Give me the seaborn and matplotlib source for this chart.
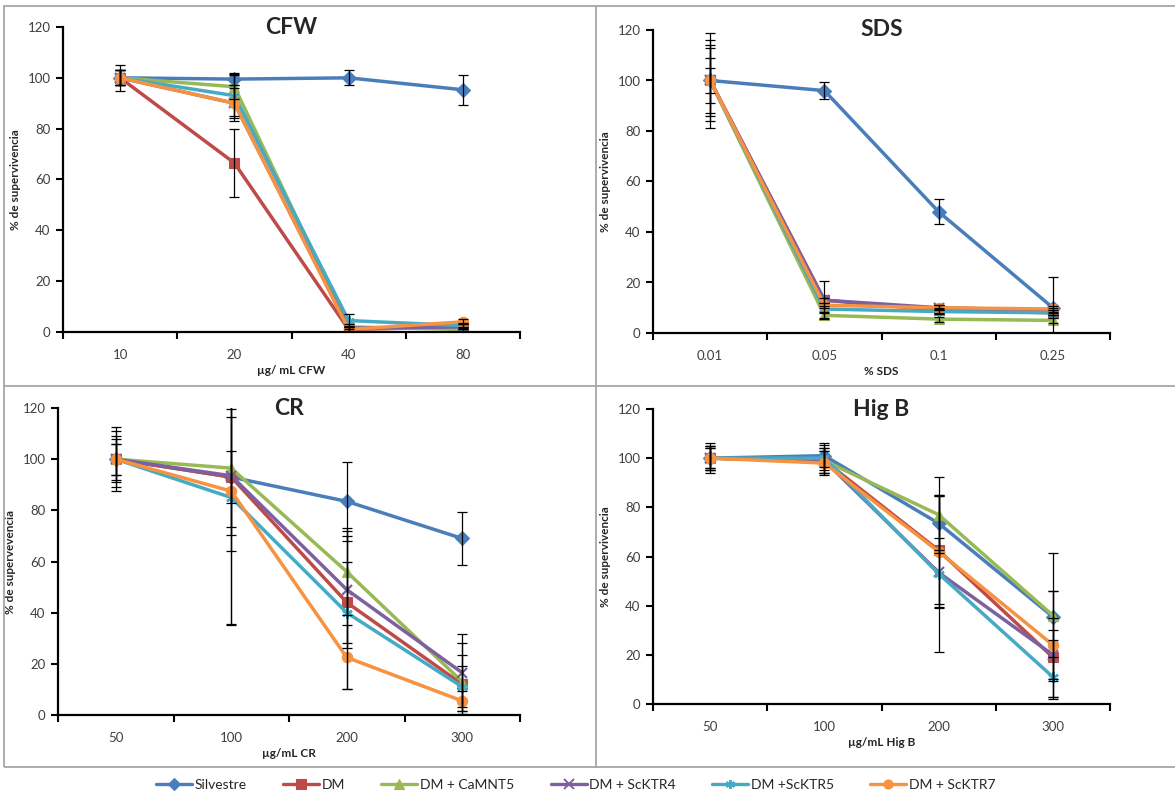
import matplotlib
matplotlib.use("Agg")
import matplotlib.pyplot as plt
from matplotlib.lines import Line2D
from matplotlib.patches import Rectangle
import seaborn as sns
import numpy as np

sns.set_style("white")
plt.rcParams['font.family'] = ['Lato', 'DejaVu Sans']

series = ["Silvestre", "DM", "DM + CaMNT5", "DM + ScKTR4", "DM +ScKTR5", "DM + ScKTR7"]
colors = ["#4A7EBB", "#BE4B48", "#98B954", "#7D60A0", "#46AAC5", "#F69240"]
markers = ["D", "s", "^", "x", (6, 2, 0), "o"]

# ---- CFW ----
cfw_cats = ["10", "20", "40", "80"]
cfw_vals = [[100, 99.5, 100, 95.3],
            [100, 66.5, 1, 2],
            [100, 96.5, 2, 1],
            [100, 90, 1.5, 2],
            [100, 93, 4.5, 2.5],
            [100, 90, 1, 4]]
cfw_err = [[5, 2.5, 3, 6],
           [3, 13.3, 1, 1],
           [3, 5, 1, 1],
           [3, 6, 1, 1],
           [3, 8, 2.5, 1],
           [3, 7, 1, 1]]

# ---- SDS ----
sds_cats = ["0.01", "0.05", "0.1", "0.25"]
sds_vals = [[100, 96, 48, 10],
            [100, 13, 9, 8],
            [100, 7, 5.5, 5],
            [100, 13, 10, 9],
            [100, 9.5, 8.5, 8],
            [100, 11, 10, 9.5]]
sds_err = [[5, 3.5, 5, 12],
           [9, 7.5, 1, 1],
           [13, 1, 1, 1],
           [16, 1, 1, 1],
           [19, 1, 1, 1],
           [14, 1, 1, 1]]

# ---- CR ----
cr_cats = ["50", "100", "200", "300"]
cr_vals = [[100, 93, 83.5, 69],
           [100, 93, 44, 12],
           [100, 96.5, 56, 13],
           [100, 93.5, 49, 16.5],
           [100, 85, 40, 11],
           [100, 87.5, 22.5, 5.5]]
cr_err = [[12.5, 10, 15.5, 10.5],
          [6, 29, 16, 11.5],
          [11, 23, 17, 15],
          [8, 23, 23, 15],
          [9, 50, 30, 8],
          [6, 52, 12.5, 4]]

# ---- Hig B ----
hig_cats = ["50", "100", "200", "300"]
hig_vals = [[100, 101, 73.5, 35.5],
            [100, 99, 62.5, 19],
            [100, 99, 77, 36],
            [100, 99, 53.5, 20],
            [100, 100, 53, 11],
            [100, 98, 62, 24]]
hig_err = [[5, 4.5, 11, 26],
           [4, 5, 22, 16],
           [6, 4, 15.5, 10],
           [5, 5, 14, 10],
           [4, 6, 32, 8],
           [5, 5, 23, 22]]

panels = [
    ("CFW", "µg/ mL CFW", "% de supervivencia", cfw_cats, cfw_vals, cfw_err),
    ("SDS", "% SDS", "% de supervivencia", sds_cats, sds_vals, sds_err),
    ("CR", "µg/mL CR", "% de supervevencia", cr_cats, cr_vals, cr_err),
    ("Hig B", "µg/mL Hig B", "% de supervivencia", hig_cats, hig_vals, hig_err),
]

W, H = 1175, 805
fig = plt.figure(figsize=(W / 100, H / 100), dpi=100)

# axes boxes in pixels: left, right, top(y=120), bottom(y=0)
boxes = [(63, 520, 27, 332), (653, 1110, 30, 333), (58, 520, 408, 715), (653, 1110, 409, 704)]

# panel frames
frame_kw = dict(color="#A6A6A6", lw=1.3)
fig.add_artist(Rectangle((4 / W, 1 - 767 / H), (W + 5 - 4) / W, (767 - 6) / H,
                         transform=fig.transFigure, fill=False, ec="#A6A6A6", lw=1.3))
fig.add_artist(Line2D([596 / W, 596 / W], [1 - 6 / H, 1 - 767 / H], transform=fig.transFigure, **frame_kw))
fig.add_artist(Line2D([4 / W, 1], [1 - 386 / H, 1 - 386 / H], transform=fig.transFigure, **frame_kw))

for (title, xlabel, ylabel, cats, vals, errs), (l, r, t, b) in zip(panels, boxes):
    ax = fig.add_axes([l / W, 1 - b / H, (r - l) / W, (b - t) / H])
    pos = np.arange(len(cats))
    for name, c, m, v, e in zip(series, colors, markers, vals, errs):
        ms = 7 if m in ("D",) else 7.5
        sns.lineplot(x=pos, y=v, ax=ax, color=c, marker=m, markersize=ms,
                     markeredgecolor=c, markeredgewidth=1.6 if m in ("x", (6, 2, 0)) else 0.8,
                     lw=2.5, label=name, legend=False, zorder=2)
        ax.errorbar(pos, v, yerr=e, fmt="none", ecolor="black", elinewidth=0.9,
                    capsize=3.5, capthick=0.9, zorder=3)
    ax.set_xlim(-0.5, len(cats) - 0.5)
    ax.set_ylim(0, 120)
    ax.set_yticks(range(0, 121, 20))
    ax.set_xticks(pos)
    ax.set_xticklabels(cats)
    ax.set_xticks(np.arange(-0.5, len(cats), 1.0), minor=True)
    ax.tick_params(axis="x", which="major", length=0, pad=12, labelsize=9.5, colors="#404040")
    ax.tick_params(axis="x", which="minor", length=5, width=1.5, direction="out", color="black", bottom=True)
    ax.tick_params(axis="y", which="major", length=5, width=1.5, direction="out", left=True,
                   labelsize=9.5, colors="black", labelcolor="#404040", pad=4)
    for s in ("top", "right"):
        ax.spines[s].set_visible(False)
    for s in ("left", "bottom"):
        ax.spines[s].set_color("black")
        ax.spines[s].set_linewidth(1.6)
    ax.set_xlabel(xlabel, fontsize=8.5, fontweight="bold", labelpad=3)
    ax.set_ylabel(ylabel, fontsize=8.5, fontweight="bold", labelpad=5)
    ax.text(0.5, 1.0, title, transform=ax.transAxes, ha="center", va="center",
            fontsize=16.5, fontweight="bold")
    ax.grid(False)
    ax.set_facecolor("none")

handles = [Line2D([], [], color=c, marker=m, markersize=6.5, markeredgecolor=c,
                  markeredgewidth=1.4 if m in ("x", (6, 2, 0)) else 0.8, lw=2.4)
           for c, m in zip(colors, markers)]
fig.legend(handles, series, loc="center", bbox_to_anchor=(0.49, 1 - 785 / H), ncol=6,
           frameon=False, fontsize=10, handlelength=2.6, handletextpad=0.2, columnspacing=2.6)

fig.savefig("out.png", dpi=100)
